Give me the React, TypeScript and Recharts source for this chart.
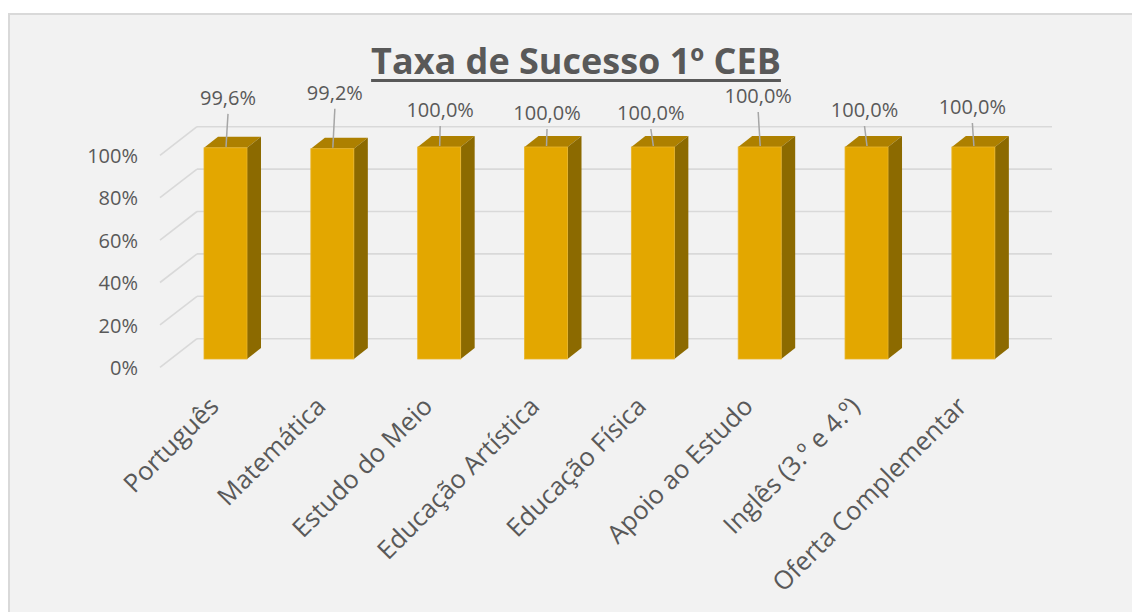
import React from 'react';
import { BarChart, Bar, XAxis, YAxis, CartesianGrid, LabelList } from 'recharts';

const chartTitle = 'Taxa de Sucesso 1º CEB';
const categories = [
  'Português',
  'Matemática',
  'Estudo do Meio',
  'Educação Artística',
  'Educação Física',
  'Apoio ao Estudo',
  'Inglês (3.º e 4.º)',
  'Oferta Complementar',
];
const successRate = [0.996, 0.992, 1.0, 1.0, 1.0, 1.0, 1.0, 1.0];
const valueLabels = ['99,6%', '99,2%', '100,0%', '100,0%', '100,0%', '100,0%', '100,0%', '100,0%'];
const yTicks = [0, 0.2, 0.4, 0.6, 0.8, 1];
const yTickLabels = ['0%', '20%', '40%', '60%', '80%', '100%'];

// manual label placement (layout only)
const labelDx = [2.5, 2.5, 1, 1, -2, -1.5, -2, -1];
const labelDy = [-43, -49, -30, -27, -27, -44, -30, -33];

const data = categories.map((name, i) => ({ name, value: successRate[i], label: valueLabels[i] }));

const FONT = '"Open Sans", sans-serif';
const TEXT = '#595959';
const GRID = '#d9d9d9';
const FRONT = '#E3A700';
const TOP = '#AD8000';
const SIDE = '#8C6A00';
const BDX = 14;
const BDY = 11;

const GridLine = (props: any) => {
  const { y1, key } = props;
  const y = y1;
  const fx = 160;
  const fy = y + 8.3;
  const bx = 197;
  const by = y - 20.3;
  return (
    <g key={key}>
      <line x1={fx} y1={fy} x2={bx} y2={by} stroke={GRID} strokeWidth={1.6} />
      <line x1={bx} y1={by} x2={1052} y2={by} stroke={GRID} strokeWidth={1.6} />
    </g>
  );
};

const YTick = (props: any) => {
  const { y, payload } = props;
  const idx = yTicks.indexOf(payload.value);
  return (
    <text x={138} y={y + 16} textAnchor="end" fontFamily={FONT} fontSize={20} fill={TEXT}>
      {idx >= 0 ? yTickLabels[idx] : ''}
    </text>
  );
};

const XTick = (props: any) => {
  const { x, y, payload } = props;
  const ax = x - 5;
  const ay = y + 41;
  return (
    <text
      x={ax}
      y={ay}
      transform={`rotate(-45, ${ax}, ${ay})`}
      textAnchor="end"
      fontFamily={FONT}
      fontSize={25.5}
      fill={TEXT}
    >
      {payload.value}
    </text>
  );
};

const Bar3D = (props: any) => {
  const { x, y, width, height } = props;
  if (width == null || height == null) return null;
  const r = x + width;
  const b = y + height;
  return (
    <g>
      <polygon
        points={`${x},${y} ${x + BDX},${y - BDY} ${r + BDX},${y - BDY} ${r},${y}`}
        fill={TOP}
      />
      <polygon
        points={`${r},${y} ${r + BDX},${y - BDY} ${r + BDX},${b - BDY} ${r},${b}`}
        fill={SIDE}
      />
      <rect x={x} y={y} width={width} height={height} fill={FRONT} stroke="#E9B52A" strokeWidth={0.8} />
    </g>
  );
};

const ValueLabel = (props: any) => {
  const { x, y, width, index } = props;
  const i = index ?? 0;
  const cx = x + width / 2;
  const lx = cx + labelDx[i];
  const ly = y + labelDy[i];
  return (
    <g>
      <line x1={lx} y1={ly + 9} x2={cx + 0.5} y2={y - 1} stroke="#a6a6a6" strokeWidth={1.5} />
      <text x={lx} y={ly} textAnchor="middle" fontFamily={FONT} fontSize={20} fill={TEXT}>
        {valueLabels[i]}
      </text>
    </g>
  );
};

export default function App() {
  return (
    <div style={{ position: 'absolute', left: 0, top: 0, width: 1132, height: 612, background: '#ffffff', overflow: 'hidden' }}>
      <div
        style={{
          position: 'absolute',
          left: 8,
          top: 13,
          width: 1140,
          height: 620,
          background: '#f2f2f2',
          border: '2px solid #d9d9d9',
        }}
      />
      <div
        style={{
          position: 'absolute',
          left: 0,
          top: 43,
          width: 1152,
          textAlign: 'center',
          fontFamily: FONT,
          fontWeight: 700,
          fontSize: 36,
          lineHeight: '36px',
          color: TEXT,
          textDecoration: 'underline',
          textDecorationThickness: 2.5,
          textUnderlineOffset: 5,
        }}
      >
        {chartTitle}
      </div>
      <div style={{ position: 'absolute', left: 0, top: 0 }}>
        <BarChart
          width={1132}
          height={612}
          data={data}
          margin={{ top: 147, right: 105.3, bottom: 53, left: 0 }}
          barSize={43}
        >
          <CartesianGrid vertical={false} horizontal={(p: any) => <GridLine {...p} />} />
          <YAxis
            domain={[0, 1]}
            ticks={yTicks}
            width={172}
            axisLine={false}
            tickLine={false}
            tick={<YTick />}
            interval={0}
          />
          <XAxis
            dataKey="name"
            height={200}
            axisLine={false}
            tickLine={false}
            interval={0}
            tick={<XTick />}
          />
          <Bar dataKey="value" shape={<Bar3D />} isAnimationActive={false}>
            <LabelList dataKey="value" content={<ValueLabel />} />
          </Bar>
        </BarChart>
      </div>
    </div>
  );
}
